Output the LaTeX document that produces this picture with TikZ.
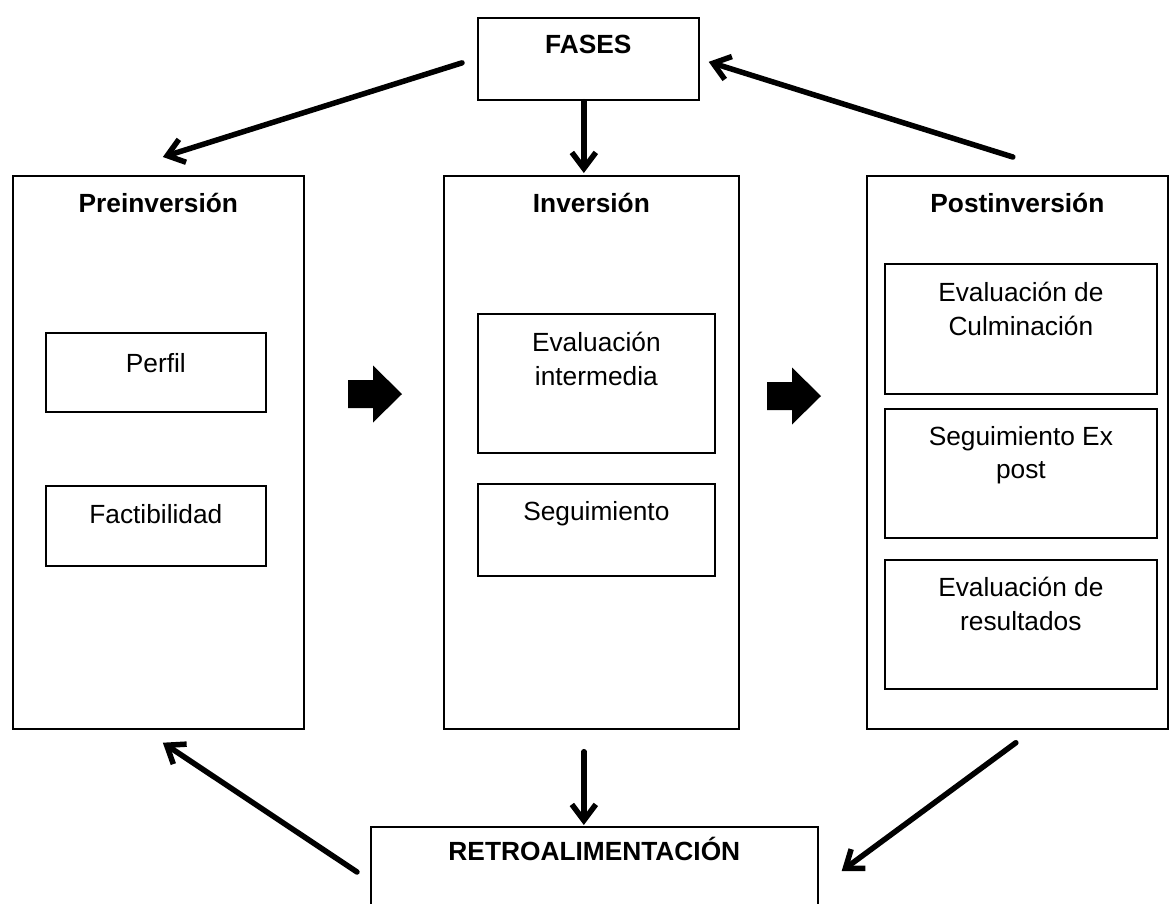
\documentclass[tikz,border=0pt]{standalone}
\usepackage{fontspec}
\setmainfont{Liberation Sans}
\usepackage{tikz}
\usetikzlibrary{arrows.meta, positioning, calc}

\tikzset{
  caja/.style={draw, line width=1.7pt, anchor=north west, inner sep=0pt},
  titulo/.style={font=\bfseries\fontsize{26.3}{33.5}\selectfont, anchor=base, inner sep=0pt},
  texto/.style={font=\fontsize{26.3}{33.5}\selectfont, align=center, inner sep=0pt},
  flecha/.style={line width=5.5pt, line cap=round, -{Straight Barb[length=16pt,width=24pt]}},
}

\begin{document}
\begin{tikzpicture}[x=1pt, y=-1pt]
  \useasboundingbox (0,0) rectangle (1169,903);
  \clip (0,0) rectangle (1169,903);

  % cajas principales
  \node[caja, minimum width=221pt, minimum height=82pt] (fases) at (477,17) {};
  \node[caja, minimum width=291pt, minimum height=553pt] (pre) at (12,175) {};
  \node[caja, minimum width=295pt, minimum height=553pt] (inv) at (443,175) {};
  \node[caja, minimum width=301pt, minimum height=553pt] (post) at (866,175) {};
  \node[caja, minimum width=447pt, minimum height=110pt] (retro) at (370,826) {};

  \node[titulo] (fasest) at ($(fases.north)+(0,36)$) {FASES};
  \node[titulo] (pret) at ($(pre.north)+(0,37)$) {Preinversión};
  \node[titulo] (invt) at ($(inv.north)+(0,37)$) {Inversión};
  \node[titulo] (postt) at ($(post.north)+(0,37)$) {Postinversión};
  \node[titulo] (retrot) at ($(retro.north)+(0,34)$) {RETROALIMENTACIÓN};

  % subetapas
  \node[caja, minimum width=220pt, minimum height=79pt] (perfil) at (45,332) {};
  \node[caja, minimum width=220pt, minimum height=80pt] (fact) at (45,485) {};
  \node[caja, minimum width=237pt, minimum height=139pt] (evint) at (477,313) {};
  \node[caja, minimum width=237pt, minimum height=92pt] (seg) at (477,483) {};
  \node[caja, minimum width=272pt, minimum height=130pt] (evcul) at (884,263) {};
  \node[caja, minimum width=272pt, minimum height=129pt] (segex) at (884,408) {};
  \node[caja, minimum width=272pt, minimum height=129pt] (evres) at (884,559) {};

  \node[texto, below=21pt of perfil.north] (perfilt) {Perfil};
  \node[texto, below=19pt of fact.north] (factt) {Factibilidad};
  \node[texto, below=19pt of evint.north] (evintt) {Evaluación\\intermedia};
  \node[texto, below=18pt of seg.north] (segt) {Seguimiento};
  \node[texto, below=19pt of evcul.north] (evcult) {Evaluación de\\Culminación};
  \node[texto, below=18pt of segex.north] (segext) {Seguimiento Ex\\post};
  \node[texto, below=18pt of evres.north] (evrest) {Evaluación de\\resultados};

  % flechas gruesas entre etapas
  \fill[shift={(348,394)}] (0,-14) -- (25,-14) -- (25,-28.5) -- (54,0) -- (25,28.5) -- (25,14) -- (0,14) -- cycle;
  \fill[shift={(767,396)}] (0,-14) -- (25,-14) -- (25,-28.5) -- (54,0) -- (25,28.5) -- (25,14) -- (0,14) -- cycle;

  % conectores
  \draw[flecha] ($(fases.west)+(-15,4)$) -- ($(pre.north)+(4.5,-18)$);
  \draw[flecha] ($(fases.south)+(-4.5,1)$) -- ($(inv.north)+(-7.5,-2)$);
  \draw[flecha] ($(post.north)+(-4.5,-18)$) -- ($(fases.east)+(9,3)$);
  \draw[flecha] ($(inv.south)+(-7.5,22)$) -- ($(retro.north)+(-10.5,-1)$);
  \draw[flecha] ($(retro.north west)+(-13,46)$) -- ($(pre.south)+(4.5,13)$);
  \draw[flecha] ($(post.south)+(-1.5,13)$) -- ($(retro.north east)+(23,45)$);
\end{tikzpicture}
\end{document}
